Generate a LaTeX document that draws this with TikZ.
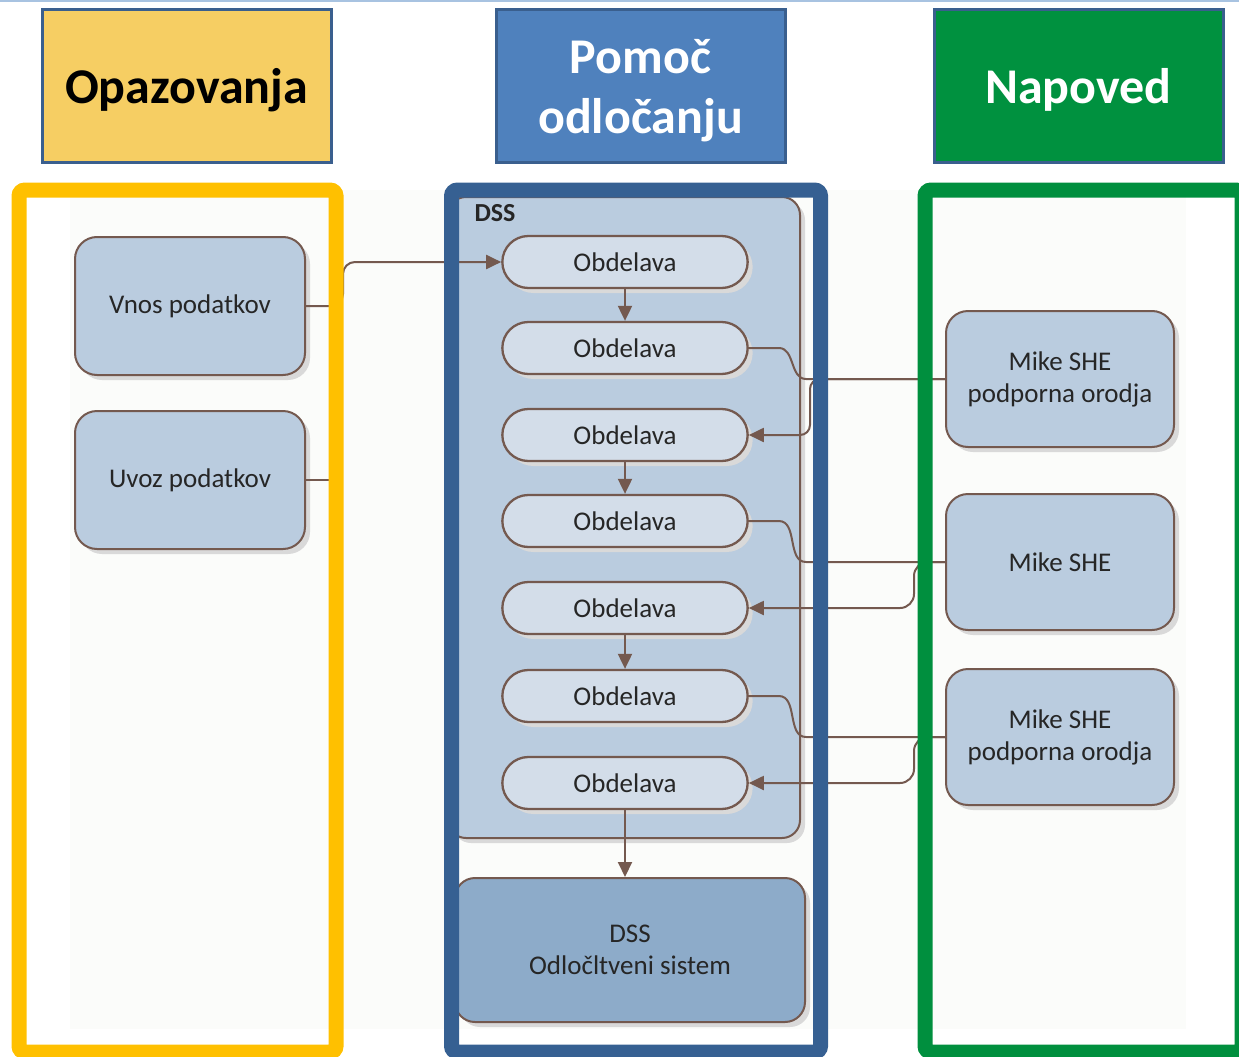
\documentclass[tikz,border=0pt]{standalone}
\usepackage{fontspec}
\setmainfont{Carlito}
\usetikzlibrary{arrows.meta,shadows,shapes.misc}

\definecolor{hdryellow}{HTML}{F6CE63}
\definecolor{hdrblue}{HTML}{4F81BD}
\definecolor{hdrgreen}{HTML}{00913F}
\definecolor{hdrline}{HTML}{3A5F8E}
\definecolor{frameyellow}{HTML}{FFC000}
\definecolor{frameblue}{HTML}{366092}
\definecolor{framegreen}{HTML}{008F3E}
\definecolor{boxfill}{HTML}{BACCDF}
\definecolor{pillfill}{HTML}{D3DDE9}
\definecolor{sysfill}{HTML}{8DABC9}
\definecolor{brownline}{HTML}{74594F}
\definecolor{paper}{HTML}{FBFCFA}
\definecolor{topblue}{HTML}{A8C3E1}

\tikzset{
  header/.style={draw=hdrline, line width=3pt, minimum width=289pt, minimum height=152pt,
    align=center, text depth=0pt, font=\fontsize{50}{60}\selectfont\bfseries},
  frame/.style={line width=15pt, rounded corners=6pt},
  databox/.style={draw=brownline, line width=2pt, fill=boxfill, rounded corners=22pt,
    minimum width=230pt, minimum height=138pt, align=center, text=black!85,
    font=\fontsize{27}{32}\selectfont,
    drop shadow={shadow xshift=5pt, shadow yshift=-5pt, fill=black!15, opacity=1}},
  pill/.style={databox, rounded rectangle, sharp corners, fill=pillfill, line width=2.3pt,
    minimum width=252pt, minimum height=52pt},
  conn/.style={draw=brownline, line width=2pt},
  arr/.style={conn, -{Triangle[length=15pt,width=14pt]}},
}

\begin{document}
\begin{tikzpicture}[x=1pt,y=-1pt]
    \useasboundingbox (0,0) rectangle (1239,1057);
    \clip (0,0) rectangle (1239,1057);
    \draw[topblue, line width=2pt] (0,1) -- (1239,1);
    \fill[paper] (70,190) rectangle (1186,1029);
    % Headers
    \node[header, fill=hdryellow] (obs) at (186.5,86) {Opazovanja};
    \node[header, fill=hdrblue, text=white] (dec) at (640.5,86) {Pomoč\\odločanju};
    \node[header, fill=hdrgreen, text=white] (fc) at (1078.5,86) {Napoved};
    % Observations
    \node[databox] (vnos) at (190,306) {Vnos podatkov};
    \node[databox] (uvoz) at (190,480) {Uvoz podatkov};
    \coordinate (uvozend) at (336,480);
    % DSS
    \node[databox, rounded corners=18pt, minimum width=352pt, minimum height=641pt] (dss) at (624,517.5) {};
    \node[anchor=north west, text=black!85, font=\fontsize{26}{30}\selectfont\bfseries] (dsslbl) at (471,201) {DSS};
    \foreach \i/\y in {1/262,2/348,3/435,4/521,5/608,6/696,7/783}
        \node[pill] (o\i) at (625,\y) {Obdelava};
    \node[databox, fill=sysfill, rounded corners=20pt, minimum width=350pt, minimum height=144pt] (sys) at (630,950) {DSS\\Odločltveni sistem};
    % Forecast
    \node[databox, minimum width=228pt, minimum height=136pt] (mike1) at (1060,379) {Mike SHE\\podporna orodja};
    \node[databox, minimum width=228pt, minimum height=136pt] (mike2) at (1060,562) {Mike SHE};
    \node[databox, minimum width=228pt, minimum height=136pt] (mike3) at (1060,737) {Mike SHE\\podporna orodja};
    % Connectors
    \draw[arr, rounded corners=12pt] (vnos.east) -- (343,306) -- (343,262) -- (o1.west);
    \draw[conn] (uvoz.east) -- (uvozend);
    \foreach \a/\b in {o1/o2,o3/o4,o5/o6,o7/sys}
        \draw[arr] (\a.south) -- (\a.south |- \b.north);
    \foreach \a/\b/\y in {o2/mike1/379,o4/mike2/562,o6/mike3/737}
        \draw[conn] (\a.east) -- ++(30,0) to[out=0,in=180] (806,\y) -- (\b.west);
    \draw[arr, rounded corners=10pt] (mike1.west) -- (810,379) -- (810,435) -- (o3.east);
    \draw[arr, rounded corners=14pt] (mike2.west) -- (914,562) -- (914,608) -- (o5.east);
    \draw[arr, rounded corners=14pt] (mike3.west) -- (914,737) -- (914,783) -- (o7.east);
    % Column frames
    \draw[frame, frameyellow] (19,190) rectangle (336,1052);
    \draw[frame, frameblue] (451.5,190) rectangle (820.5,1052);
    \draw[frame, framegreen] (925,190) rectangle (1242,1052);
\end{tikzpicture}
\end{document}
